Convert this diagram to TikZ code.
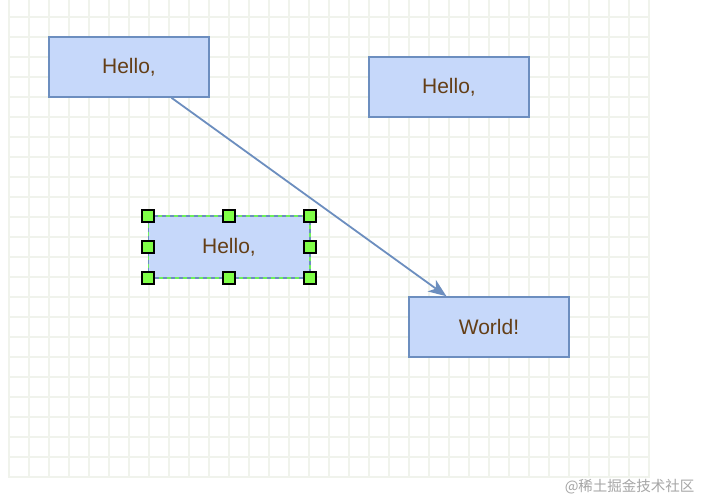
\documentclass[tikz,border=0pt]{standalone}
\usepackage{fontspec}
\setmainfont{Liberation Sans}
\newfontfamily\cjk{Noto Sans CJK SC}
\usetikzlibrary{arrows.meta}
\definecolor{boxfill}{RGB}{198,216,250}
\definecolor{boxline}{RGB}{108,142,191}
\definecolor{txt}{RGB}{100,62,22}
\definecolor{gridc}{RGB}{240,243,236}
\definecolor{handle}{RGB}{128,255,72}
\definecolor{selgreen}{RGB}{110,240,90}
\tikzset{
  shapebox/.style={draw=boxline, fill=boxfill, line width=1.5pt,
    minimum width=160pt, minimum height=60pt, inner sep=0pt,
    text=txt, font=\fontsize{21}{24}\selectfont},
  handlebox/.style={draw=black, fill=handle, line width=1.6pt,
    minimum size=12pt, inner sep=0pt},
  conn/.style={draw=boxline, line width=1.8pt,
    -{Stealth[length=18pt,width=14pt,inset=5pt]}}
}
\begin{document}
\begin{tikzpicture}[x=1pt,y=-1pt]
\useasboundingbox (0,0) rectangle (702,500);
\fill[white] (0,0) rectangle (702,500);
% grid
\foreach \i in {0,...,32} {\draw[gridc, line width=1.3pt] (9+20*\i,0) -- (9+20*\i,478);}
\foreach \j in {0,...,23} {\draw[gridc, line width=1.3pt] (8,17+20*\j) -- (650,17+20*\j);}
% boxes
\node[shapebox] (a) at (129,67) {Hello,};
\node[shapebox] (b) at (449,87) {Hello,};
\node[shapebox, draw=none] (c) at (229,247) {Hello,};
\node[shapebox] (d) at (489,327) {World!};
% selection outline
\draw[boxline, line width=1.5pt] (c.north west) rectangle (c.south east);
\draw[selgreen, line width=1.5pt, dash pattern=on 4pt off 4pt] (c.north west) rectangle (c.south east);
% connector
\draw[conn] (a) -- (d);
% handles
\foreach \p in {north west,north,north east,west,east,south west,south,south east}
  {\node[handlebox] at (c.\p) {};}
% watermark
\node[anchor=east, text=black!35, font=\cjk\fontsize{14.5}{16}\selectfont] (wm) at (698,487) {@稀土掘金技术社区};
\end{tikzpicture}
\end{document}
